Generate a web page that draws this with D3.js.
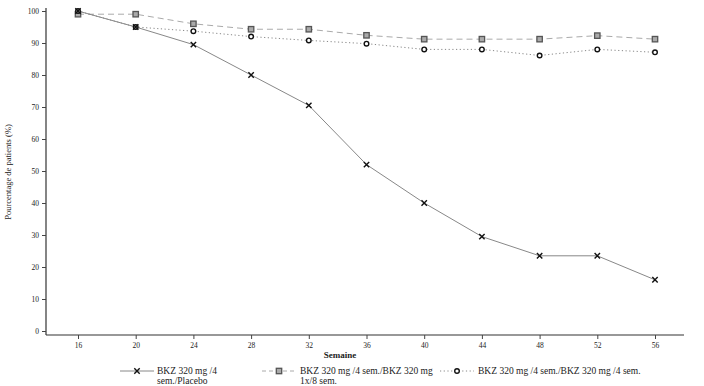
<!DOCTYPE html>
<meta charset="utf-8">
<style>
body { margin: 0; background: #fff; }
text { font-family: "Liberation Serif", "Times New Roman", serif; fill: #222; }
</style>
<body>
<svg width="704" height="386"></svg>
<script src="https://cdnjs.cloudflare.com/ajax/libs/d3/7.8.5/d3.min.js"></script>
<script>
var weeks = [16, 20, 24, 28, 32, 36, 40, 44, 48, 52, 56]
var yTicks = [0, 10, 20, 30, 40, 50, 60, 70, 80, 90, 100]
var placebo = [100, 95, 89.5, 80, 70.5, 52, 40, 29.5, 23.5, 23.5, 16]
var q8w = [99, 99, 96, 94.3, 94.3, 92.4, 91.2, 91.2, 91.2, 92.3, 91.2]
var q4w = [100, 95, 93.7, 92, 90.8, 89.8, 88, 88, 86.1, 88, 87.1]
var names = ["BKZ 320 mg /4|sem./Placebo", "BKZ 320 mg /4 sem./BKZ 320 mg|1x/8 sem.", "BKZ 320 mg /4 sem./BKZ 320 mg /4 sem."]

var svg = d3.select('svg')
var x = d3.scaleLinear().domain([16, 56]).range([78, 655])
var y = d3.scaleLinear().domain([0, 100]).range([331, 11])

// axes
svg.append('line').attr('x1', 46).attr('x2', 46).attr('y1', 8).attr('y2', 335)
  .attr('stroke', '#333').attr('stroke-width', 1.2)
svg.append('line').attr('x1', 46).attr('x2', 684).attr('y1', 335).attr('y2', 335)
  .attr('stroke', '#333').attr('stroke-width', 1.2)

var yg = svg.append('g').attr('transform', 'translate(46,0)')
  .call(d3.axisLeft(y).tickValues(yTicks).tickSize(4).tickPadding(3))
yg.select('.domain').remove()
yg.selectAll('text').style('font-size', '7.5px').style('font-family', '"Liberation Serif", serif').attr('fill', '#333')
yg.selectAll('line').attr('stroke', '#444')

var xg = svg.append('g').attr('transform', 'translate(0,335)')
  .call(d3.axisBottom(x).tickValues(weeks).tickSize(4).tickPadding(4))
xg.select('.domain').remove()
xg.selectAll('text').style('font-size', '7.5px').style('font-family', '"Liberation Serif", serif').attr('fill', '#333')
xg.selectAll('line').attr('stroke', '#444')

svg.append('text').attr('x', 340).attr('y', 358).attr('text-anchor', 'middle')
  .style('font-size', '9px').style('font-weight', 'bold').text('Semaine')
svg.append('text').attr('transform', 'translate(11,172) rotate(-90)').attr('text-anchor', 'middle')
  .style('font-size', '8.5px').text('Pourcentage de patients (%)')

var line = d3.line().x(function(d, i) { return x(weeks[i]) }).y(function(d) { return y(d) })

function drawLine(vals, dash, color) {
  svg.append('path').datum(vals).attr('d', line).attr('fill', 'none')
    .attr('stroke', color).attr('stroke-width', 1).attr('stroke-dasharray', dash)
}
drawLine(q8w, '6,4', '#aaa')
drawLine(q4w, '1.2,2.5', '#888')
drawLine(placebo, null, '#888')

function cross(g, cx, cy) {
  g.append('path').attr('d', 'M' + (cx - 2.7) + ',' + (cy - 2.7) + 'L' + (cx + 2.7) + ',' + (cy + 2.7) +
    'M' + (cx - 2.7) + ',' + (cy + 2.7) + 'L' + (cx + 2.7) + ',' + (cy - 2.7))
    .attr('stroke', '#111').attr('stroke-width', 1.4)
}
function square(g, cx, cy) {
  g.append('rect').attr('x', cx - 2.7).attr('y', cy - 2.7).attr('width', 5.4).attr('height', 5.4)
    .attr('fill', '#aaa').attr('stroke', '#555').attr('stroke-width', 1.3)
}
function circle(g, cx, cy) {
  g.append('circle').attr('cx', cx).attr('cy', cy).attr('r', 2.3)
    .attr('fill', '#fff').attr('stroke', '#111').attr('stroke-width', 1.4)
}

var mk = svg.append('g')
q8w.forEach(function(v, i) { square(mk, x(weeks[i]), y(v)) })
q4w.forEach(function(v, i) { circle(mk, x(weeks[i]), y(v)) })
placebo.forEach(function(v, i) { cross(mk, x(weeks[i]), y(v)) })

// legend
var leg = [
  { x0: 120, x1: 154, tx: 157, dash: null, col: '#888', m: cross },
  { x0: 262, x1: 296, tx: 300, dash: '4,3', col: '#aaa', m: square },
  { x0: 440, x1: 474, tx: 478, dash: '1.2,2.5', col: '#888', m: circle }
]
leg.forEach(function(l, i) {
  svg.append('line').attr('x1', l.x0).attr('x2', l.x1).attr('y1', 371).attr('y2', 371)
    .attr('stroke', l.col).attr('stroke-dasharray', l.dash)
  l.m(svg, (l.x0 + l.x1) / 2, 371)
  var t = svg.append('text').attr('x', l.tx).attr('y', 374).style('font-size', '9.5px')
  names[i].split('|').forEach(function(s, j) {
    t.append('tspan').attr('x', l.tx).attr('dy', j ? 10 : 0).text(s)
  })
})
</script>
</body>
